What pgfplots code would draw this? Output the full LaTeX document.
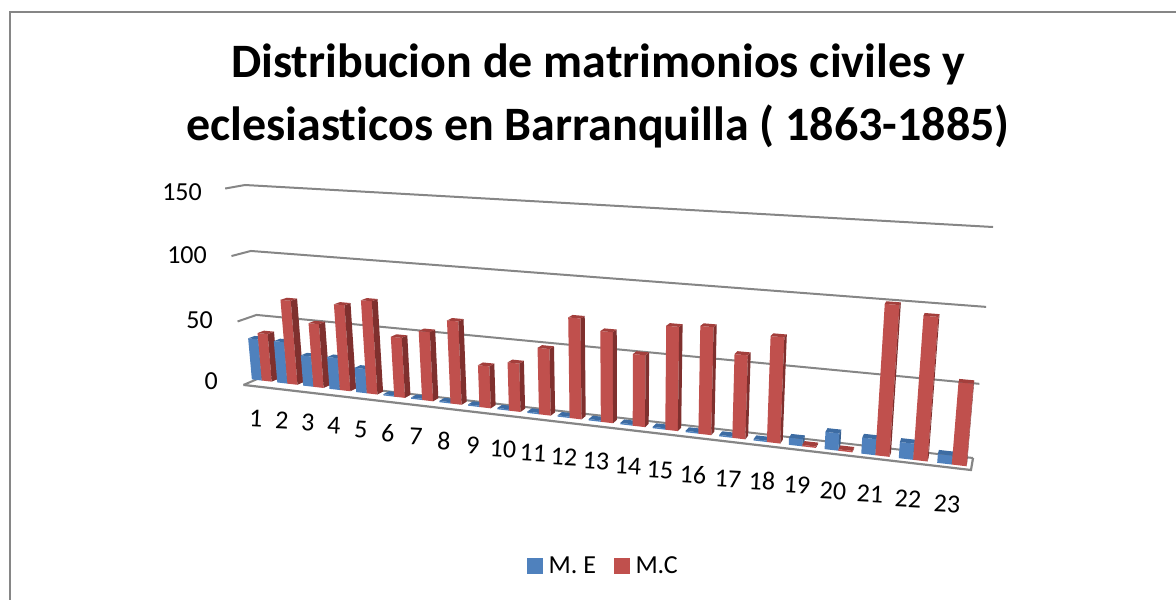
\documentclass[border=0pt]{standalone}
\usepackage{pgfplots}
\usepackage{pgfplotstable}
\usepackage{fontspec}
\setmainfont{Carlito}[Ligatures=NoCommon]
\pgfplotsset{compat=1.18}
\definecolor{bluef}{HTML}{4F81BD}
\definecolor{blues}{HTML}{3A6291}
\definecolor{bluet}{HTML}{3D6CA3}
\definecolor{redf}{HTML}{C0504D}
\definecolor{reds}{HTML}{7F302E}
\definecolor{redt}{HTML}{A33F3C}
\definecolor{gridc}{HTML}{868686}
\pgfplotstableread{
cat me mc
1 33 38
2 33 66
3 24 50
4 25 66.5
5 19 71.5
6 1 46
7 1 52.5
8 1 62.5
9 1 31.5
10 1 36
11 1 49
12 1 73
13 1 65.5
14 1 51.5
15 1 73.5
16 1 75.5
17 1 58.5
18 1 73
19 5 1
20 12 1
21 11 100.5
22 11 95
23 6 54.5
}\bardata
% projection of (u along the categories, z = value/150, t depth towards the viewer)
\newcommand\proj[3]{%
  \pgfmathsetmacro\pw{1-0.17696*(#1)-0.04473*(#2)-0.02316*(#3)}%
  \pgfmathsetmacro\px{(538.82*(#1)-27.96*(#2)+262-24.14*(#3))/\pw}%
  \pgfmathsetmacro\py{(-0.05*(#1)-200.275*(#2)+377-1.0*(#3))/\pw}%
}
\def\addpt(#1,#2,#3){\proj{#1}{#2}{#3}\edef\coords{\coords(\px,\py)}}
\newcommand\face[5]{%
  \def\coords{}%
  \addpt#2\addpt#3\addpt#4\addpt#5%
  \edef\tmp{\noexpand\addplot[fill=#1,draw=none,forget plot] coordinates {\coords} -- cycle;}%
  \tmp
}
\newcommand\gridline[1]{%
  \def\coords{}%
  \addpt(0,#1,1)\addpt(0,#1,0)\addpt(1,#1,0)%
  \edef\tmp{\noexpand\addplot[color=gridc,line width=2pt,forget plot] coordinates {\coords};}%
  \tmp
}
\newcommand\drawbar[3]{%
  \face{#1}{(\ua,0,\tf)}{(\ub,0,\tf)}{(\ub,\zz,\tf)}{(\ua,\zz,\tf)}%
  \face{#2}{(\ub,0,\tf)}{(\ub,0,\tb)}{(\ub,\zz,\tb)}{(\ub,\zz,\tf)}%
  \face{#3}{(\ua,\zz,\tf)}{(\ub,\zz,\tf)}{(\ub,\zz,\tb)}{(\ua,\zz,\tb)}%
}
\begin{document}
\begin{tikzpicture}[x=1pt,y=1pt]
\useasboundingbox (0,0) rectangle (1176,600);
\begin{axis}[
  at={(0,0)},anchor=south west,
  width=1176pt,height=600pt,scale only axis,
  xmin=0,xmax=1176,ymin=0,ymax=600,y dir=reverse,
  hide axis,clip=false,
  legend style={at={(axis cs:603.5,566)},anchor=center,draw=none,fill=none,
    inner sep=0pt,outer sep=0pt,
    legend columns=2,font=\fontsize{26}{30}\selectfont,
    /tikz/every odd column/.append style={column sep=4pt},
    /tikz/every even column/.append style={column sep=16pt}},
  legend image code/.code={\fill[#1] (0pt,-7.5pt) rectangle (15pt,7.5pt);},
]
\gridline{1}
\gridline{0.66667}
\gridline{0.33333}
\gridline{0}
% floor
\def\coords{}\addpt(0,0,1)\addpt(1,0,1)\addpt(1,0,0)
\edef\tmp{\noexpand\addplot[color=gridc,line width=2.2pt,forget plot] coordinates {\coords};}\tmp
% bars
\pgfplotstablegetrowsof{\bardata}
\pgfmathtruncatemacro\nrows{\pgfplotsretval-1}
\pgfplotsforeachungrouped \i in {0,...,\nrows}{%
  \pgfmathsetmacro\cn{(\i+0.5)/23}%
  \pgfmathsetmacro\cc{\cn-0.011*(1-\cn*\cn*\cn)}%
  \pgfmathsetmacro\tf{0.35+0.4*\cn}%
  \pgfmathsetmacro\tb{\tf-0.35}%
  \pgfplotstablegetelem{\i}{me}\of\bardata
  \pgfmathsetmacro\zz{\pgfplotsretval/150}%
  \pgfmathsetmacro\ua{\cc-0.0168}\let\ub\cc
  \drawbar{bluef}{blues}{bluet}%
  \pgfplotstablegetelem{\i}{mc}\of\bardata
  \pgfmathsetmacro\zz{\pgfplotsretval/150}%
  \let\ua\cc\pgfmathsetmacro\ub{\cc+0.0168}%
  \drawbar{redf}{reds}{redt}%
}
\addlegendimage{bluef}\addlegendentry{M. E}
\addlegendimage{redf}\addlegendentry{M.C}
\end{axis}
% frame
\draw[gridc,line width=2pt] (9.5,-5) -- (9.5,588) -- (1181,588);
% title
\node[font=\bfseries\fontsize{48}{63}\selectfont,align=center] at (598,504.5) {Distribucion de matrimonios civiles y\\eclesiasticos en Barranquilla ( 1863-1885)};
% value labels
\begin{scope}[font=\fontsize{26}{30}\selectfont]
\node[anchor=east,inner sep=0] at (202,408) {150};
\node[anchor=east,inner sep=0] at (207,345) {100};
\node[anchor=east,inner sep=0] at (213,280) {50};
\node[anchor=east,inner sep=0] at (218,219) {0};
\foreach \l/\x/\y in {1/256/418,2/282/420,3/308/423,4/334/426,5/361/430,6/388/433,7/416/437,8/444/441,9/473/445,10/503/449,11/533/453,12/564/457,13/596/461,14/628/466,15/660/470,16/693/475,17/728/479,18/762/481,19/797/485,20/833/491,21/870/494,22/908/499,23/947/504}
  \node[rotate=-3,inner sep=0] at (\x,600-\y) {\l};
\end{scope}
\end{tikzpicture}
\end{document}
